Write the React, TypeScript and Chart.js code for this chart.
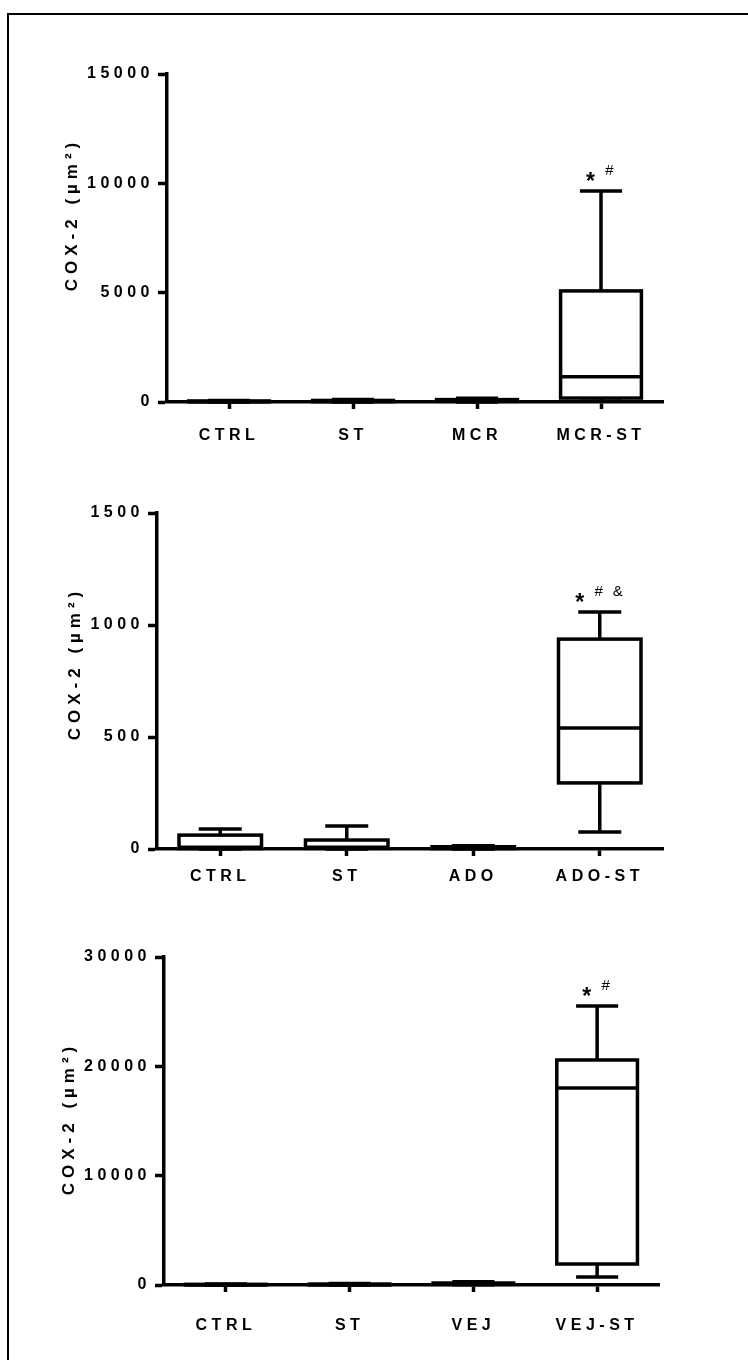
import React, { useEffect, useRef } from 'react';
import { Chart, registerables } from 'chart.js';

Chart.register(...registerables);

const FONT = '"Liberation Sans", Arial, Helvetica, sans-serif';
const TITLE = 'COX-2 (µm²)';

// Panel 1: MCR series
const groupsA = ['CTRL', 'ST', 'MCR', 'MCR-ST'];
const minA = [0, 0, 5, 40];
const q1A = [10, 15, 30, 180];
const medA = [25, 40, 70, 1150];
const q3A = [45, 70, 110, 5080];
const maxA = [70, 120, 170, 9650];
const ticksA = [0, 5000, 10000, 15000];
const marksA = [[], [], [], ['*', '#']];

// Panel 2: ADO series
const groupsB = ['CTRL', 'ST', 'ADO', 'ADO-ST'];
const minB = [0, 0, 0, 76];
const q1B = [2, 3, 2, 295];
const medB = [8, 8, 5, 540];
const q3B = [62, 40, 10, 937];
const maxB = [89, 103, 15, 1058];
const ticksB = [0, 500, 1000, 1500];
const marksB = [[], [], [], ['*', '#', '&']];

// Panel 3: VEJ series
const groupsC = ['CTRL', 'ST', 'VEJ', 'VEJ-ST'];
const minC = [0, 0, 20, 730];
const q1C = [10, 10, 60, 1920];
const medC = [30, 40, 120, 18020];
const q3C = [60, 80, 180, 20580];
const maxC = [90, 130, 300, 25520];
const ticksC = [0, 10000, 20000, 30000];
const marksC = [[], [], [], ['*', '#']];

type Layout = {
  top: number;
  height: number;
  left: number;
  right: number;
  areaTop: number;
  areaBottom: number;
  titleX: number;
  titleY: number;
  labelPad: number;
};

type PanelSpec = {
  groups: string[];
  min: number[];
  q1: number[];
  med: number[];
  q3: number[];
  max: number[];
  ticks: number[];
  marks: string[][];
  layout: Layout;
};

const panels: PanelSpec[] = [
  {
    groups: groupsA, min: minA, q1: q1A, med: medA, q3: q3A, max: maxA, ticks: ticksA, marks: marksA,
    layout: { top: 0, height: 470, left: 167, right: 663, areaTop: 74, areaBottom: 402, titleX: 72, titleY: 217, labelPad: 17 },
  },
  {
    groups: groupsB, min: minB, q1: q1B, med: medB, q3: q3B, max: maxB, ticks: ticksB, marks: marksB,
    layout: { top: 470, height: 440, left: 157, right: 663, areaTop: 513, areaBottom: 849, titleX: 75, titleY: 666, labelPad: 11 },
  },
  {
    groups: groupsC, min: minC, q1: q1C, med: medC, q3: q3C, max: maxC, ticks: ticksC, marks: marksC,
    layout: { top: 910, height: 450, left: 164, right: 659, areaTop: 957, areaBottom: 1285, titleX: 69, titleY: 1121, labelPad: 24 },
  },
];

const Y_AXIS_W = 100;
const X_AXIS_H = 60;
const LINE = 3.5;

// Canvas text in this figure is widely tracked.
const trackingPlugin = {
  id: 'tracking',
  beforeLayout(chart: any) {
    chart.ctx.letterSpacing = '4.5px';
  },
  beforeDraw(chart: any) {
    chart.ctx.letterSpacing = '4.5px';
  },
};

function makeBoxPlugin(spec: PanelSpec) {
  const line = (ctx: CanvasRenderingContext2D, x1: number, y1: number, x2: number, y2: number) => {
    ctx.beginPath();
    ctx.moveTo(x1, y1);
    ctx.lineTo(x2, y2);
    ctx.stroke();
  };
  return {
    id: 'boxWhiskers',
    beforeDatasetsDraw(chart: any) {
      const ctx: CanvasRenderingContext2D = chart.ctx;
      const y = chart.scales.y;
      const meta = chart.getDatasetMeta(0);
      ctx.save();
      ctx.strokeStyle = '#000';
      ctx.lineWidth = LINE;
      spec.groups.forEach((_, i) => {
        const bar = meta.data[i];
        const cx = bar.x;
        const capHalf = bar.width / 4;
        const yMax = y.getPixelForValue(spec.max[i]);
        const yMin = y.getPixelForValue(spec.min[i]);
        line(ctx, cx, yMax, cx, y.getPixelForValue(spec.q3[i]));
        line(ctx, cx, yMin, cx, y.getPixelForValue(spec.q1[i]));
        line(ctx, cx - capHalf, yMax, cx + capHalf, yMax);
        line(ctx, cx - capHalf, yMin, cx + capHalf, yMin);
      });
      ctx.restore();
    },
    afterDatasetsDraw(chart: any) {
      const ctx: CanvasRenderingContext2D = chart.ctx;
      const y = chart.scales.y;
      const meta = chart.getDatasetMeta(0);
      ctx.save();
      ctx.strokeStyle = '#000';
      ctx.lineWidth = LINE;
      spec.groups.forEach((_, i) => {
        const bar = meta.data[i];
        const left = bar.x - bar.width / 2 + LINE / 2;
        const right = bar.x + bar.width / 2 - LINE / 2;
        const yTop = y.getPixelForValue(spec.q3[i]);
        const yBot = y.getPixelForValue(spec.q1[i]);
        ctx.strokeRect(left, yTop, right - left, yBot - yTop);
        const yMed = y.getPixelForValue(spec.med[i]);
        line(ctx, left, yMed, right, yMed);

        // significance symbols above the upper whisker
        const marks = spec.marks[i];
        if (marks.length) {
          ctx.letterSpacing = '0px';
          ctx.fillStyle = '#000';
          ctx.textAlign = 'center';
          ctx.textBaseline = 'alphabetic';
          const yMax = y.getPixelForValue(spec.max[i]);
          const step = 19;
          const start = bar.x - 1 - (step * (marks.length - 1)) / 2;
          marks.forEach((m, k) => {
            const mx = start + k * step;
            if (m === '*') {
              const size = 23;
              ctx.font = `bold ${size}px ${FONT}`;
              ctx.fillText(m, mx, yMax - 16 + 0.59 * size);
            } else {
              const size = 15;
              ctx.font = `${size}px ${FONT}`;
              ctx.fillText(m, mx, yMax - 21 + 0.36 * size);
            }
          });
        }
      });
      ctx.restore();
    },
  };
}

function makeTitlePlugin(spec: PanelSpec) {
  return {
    id: 'yTitle',
    afterDraw(chart: any) {
      const ctx: CanvasRenderingContext2D = chart.ctx;
      const L = spec.layout;
      ctx.save();
      ctx.letterSpacing = '5px';
      ctx.font = `bold 17px ${FONT}`;
      ctx.fillStyle = '#000';
      ctx.translate(L.titleX, L.titleY - L.top);
      ctx.rotate(-Math.PI / 2);
      ctx.textAlign = 'center';
      ctx.textBaseline = 'middle';
      ctx.fillText(TITLE, 2.5, 0);
      ctx.restore();
    },
  };
}

function Panel({ spec }: { spec: PanelSpec }) {
  const ref = useRef<HTMLCanvasElement>(null);
  const L = spec.layout;

  useEffect(() => {
    if (!ref.current) return;
    const tickFont = { family: FONT, size: 16, weight: 'bold' as const };
    const chart = new Chart(ref.current, {
      type: 'bar',
      data: {
        labels: spec.groups,
        datasets: [
          {
            data: spec.groups.map((_, i) => [spec.q1[i], spec.q3[i]]) as any,
            backgroundColor: '#ffffff',
            borderWidth: 0,
            barPercentage: 0.68,
            categoryPercentage: 1,
          },
        ],
      },
      options: {
        responsive: false,
        animation: false,
        devicePixelRatio: 1,
        layout: {
          padding: {
            left: L.left - Y_AXIS_W,
            right: 748 - L.right,
            top: L.areaTop - L.top,
            bottom: L.height - (L.areaBottom - L.top) - X_AXIS_H,
          },
        },
        plugins: {
          legend: { display: false },
          tooltip: { enabled: false },
          title: { display: false },
        },
        scales: {
          x: {
            offset: true,
            grid: {
              display: true,
              drawOnChartArea: false,
              drawTicks: true,
              offset: false,
              tickLength: 7,
              tickWidth: LINE,
              tickColor: '#000',
              color: '#000',
            },
            border: { display: true, color: '#000', width: LINE },
            ticks: { color: '#000', font: tickFont, padding: L.labelPad, maxRotation: 0 },
            afterFit: (s: any) => {
              s.height = X_AXIS_H;
            },
          },
          y: {
            min: spec.ticks[0],
            max: spec.ticks[spec.ticks.length - 1],
            grid: {
              display: true,
              drawOnChartArea: false,
              drawTicks: true,
              tickLength: 9,
              tickWidth: LINE,
              tickColor: '#000',
              color: '#000',
            },
            border: { display: true, color: '#000', width: LINE },
            ticks: {
              color: '#000',
              font: tickFont,
              padding: 4,
              callback: (v: any) => String(v),
            },
            afterBuildTicks: (s: any) => {
              s.ticks = spec.ticks.map((v) => ({ value: v }));
            },
            afterFit: (s: any) => {
              s.width = Y_AXIS_W;
            },
          },
        },
      },
      plugins: [trackingPlugin, makeBoxPlugin(spec), makeTitlePlugin(spec)],
    });
    return () => chart.destroy();
  }, [spec]);

  return (
    <canvas
      ref={ref}
      width={748}
      height={L.height}
      style={{ position: 'absolute', left: 0, top: L.top, width: 748, height: L.height }}
    />
  );
}

export default function App() {
  return (
    <div
      style={{
        position: 'fixed',
        left: 0,
        top: 0,
        width: 748,
        height: 1360,
        overflow: 'hidden',
        background: '#fff',
      }}
    >
      <div
        style={{
          position: 'absolute',
          left: 7,
          top: 13,
          width: 800,
          height: 1400,
          border: '2px solid #000',
        }}
      />
      {panels.map((p, i) => (
        <Panel key={i} spec={p} />
      ))}
    </div>
  );
}
